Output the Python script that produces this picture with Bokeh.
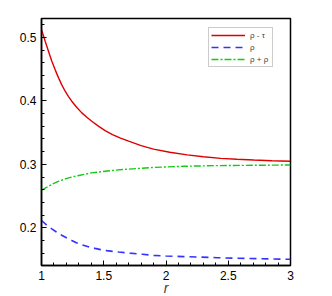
from bokeh.plotting import figure
from bokeh.models import SingleIntervalTicker, Range1d
from bokeh.embed import file_html
from bokeh.resources import INLINE

# data
r_red = [1.0, 1.0295, 1.056, 1.083, 1.110, 1.137, 1.163, 1.190, 1.217, 1.243, 1.284, 1.324, 1.364, 1.404, 1.457, 1.511, 1.57, 1.635, 1.70, 1.80, 1.90, 2.03, 2.17, 2.30, 2.44, 2.57, 2.705, 2.85, 3.0]
rho_tau = [0.5125, 0.4942, 0.4785, 0.4627, 0.4490, 0.4364, 0.4253, 0.4153, 0.4069, 0.3996, 0.3896, 0.3812, 0.3743, 0.3680, 0.3602, 0.3533, 0.3470, 0.3415, 0.3365, 0.3295, 0.3240, 0.3190, 0.3150, 0.3120, 0.3095, 0.3080, 0.3068, 0.3058, 0.3050]

r_blue = [1.0, 1.04, 1.083, 1.12, 1.163, 1.2, 1.243, 1.28, 1.32, 1.37, 1.43, 1.475, 1.525, 1.57, 1.62, 1.71, 1.81, 1.90, 2.0, 2.14, 2.28, 2.41, 2.545, 2.75, 2.95, 3.0]
rho = [0.2115, 0.2045, 0.1983, 0.1933, 0.1882, 0.1842, 0.1800, 0.1765, 0.1735, 0.1705, 0.1675, 0.1655, 0.1640, 0.1628, 0.1617, 0.1600, 0.1582, 0.1565, 0.1555, 0.1545, 0.1537, 0.1528, 0.1520, 0.1512, 0.1505, 0.1503]

r_green = [1.0, 1.04, 1.08, 1.13, 1.19, 1.24, 1.3, 1.4, 1.55, 1.65, 1.9, 2.15, 2.4, 2.7, 3.0]
rho_p = [0.259, 0.2637, 0.268, 0.2727, 0.277, 0.2798, 0.2825, 0.2865, 0.290, 0.2918, 0.2952, 0.297, 0.298, 0.2985, 0.299]

labels = ["ρ - τ", "ρ", "ρ + ρ"]

p = figure(width=324, height=296, output_backend="svg", toolbar_location=None,
           x_range=Range1d(1, 3), y_range=Range1d(0.1405, 0.530),
           frame_width=249, frame_height=247,
           min_border_left=41, min_border_top=18, min_border_right=34, min_border_bottom=20)

p.line(r_red, rho_tau, line_color="#dd0000", line_width=1.4, legend_label=labels[0])
p.line(r_blue, rho, line_color="#3333ff", line_width=1.6, line_dash="7 5", legend_label=labels[1])
p.line(r_green, rho_p, line_color="#11cc11", line_width=1.4, line_dash="7 2 2 2", legend_label=labels[2])

p.xgrid.visible = False
p.ygrid.visible = False
p.outline_line_color = "black"
p.outline_line_width = 1.5
p.background_fill_color = "white"
p.border_fill_color = "white"

p.xaxis.ticker = SingleIntervalTicker(interval=0.5, num_minor_ticks=5)
p.yaxis.ticker = SingleIntervalTicker(interval=0.1, num_minor_ticks=5)
p.xaxis.axis_label = "r"
p.xaxis.axis_label_text_font_style = "italic"
p.xaxis.axis_label_text_font_size = "14px"
p.xaxis.axis_label_text_font = "Liberation Sans"
p.xaxis.axis_label_standoff = -3
for ax in (p.xaxis, p.yaxis):
    ax.axis_line_width = 1.5
    ax.axis_line_color = "black"
    ax.major_tick_in = 5
    ax.major_tick_out = 0
    ax.minor_tick_in = 3
    ax.minor_tick_out = 0
    ax.major_tick_line_color = "black"
    ax.minor_tick_line_color = "black"
    ax.major_label_text_font = "Liberation Sans"
    ax.major_label_text_font_size = "12px"
    ax.major_label_text_color = "black"
    ax.major_label_standoff = 5

lg = p.legend[0]
lg.location = (167, 198)
lg.margin = 0
lg.padding = 2
lg.spacing = 2
lg.glyph_width = 34
lg.glyph_height = 10
lg.label_height = 10
lg.label_standoff = 5
lg.label_text_font = "Liberation Sans"
lg.label_text_font_size = "8px"
lg.border_line_color = "#999999"
lg.border_line_width = 1
lg.background_fill_alpha = 1.0

open("out.html", "w").write(file_html(p, INLINE))
